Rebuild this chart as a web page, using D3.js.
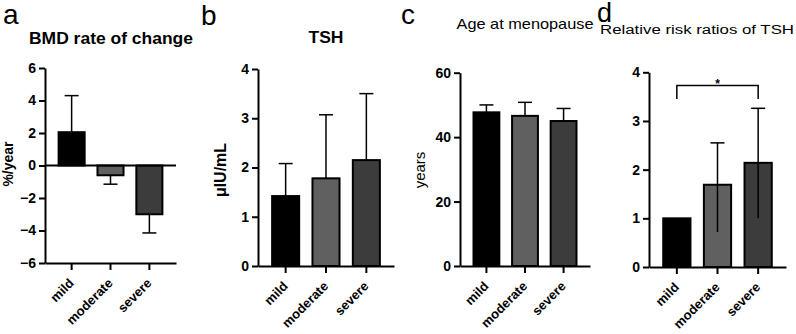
<!doctype html>
<meta charset="utf-8">
<style>
body { margin: 0; background: #fff; }
svg { font-family: "Liberation Sans", Arial, sans-serif; }
.tick text { font-family: "Liberation Sans", Arial, sans-serif; font-size: 14px; font-weight: bold; fill: #000; }
.tick text.cat { font-size: 13px; }
</style>
<body>
<svg id="fig" width="796" height="334"></svg>
<script src="https://d3js.org/d3.v7.min.js"></script>
<script>
  var categories = ["mild", "moderate", "severe"];
  var fills = ["#000000", "#606060", "#3c3c3c"];

  // a: BMD rate of change (%/year), mean and SD
  var bmdMean = [2.05, -0.6, -3.0];
  var bmdSD = [2.25, 0.55, 1.15];
  var bmdTicks = [-6, -4, -2, 0, 2, 4, 6];

  // b: TSH (uIU/mL), mean and SD
  var tshMean = [1.42, 1.78, 2.15];
  var tshSD = [0.66, 1.29, 1.35];
  var tshTicks = [0, 1, 2, 3, 4];

  // c: age at menopause (years), mean and SD
  var ageMean = [47.7, 46.6, 45.0];
  var ageSD = [2.3, 4.2, 3.9];
  var ageTicks = [0, 20, 40, 60];

  // d: relative risk ratios of TSH, with 95% CI
  var rrValue = [1.0, 1.69, 2.14];
  var rrLow = [null, 0.72, 1.0];
  var rrHigh = [null, 2.55, 3.26];
  var rrTicks = [0, 1, 2, 3, 4];
  var sigPair = ["mild", "severe"], sigLevel = 3.73, sigLeg = 3.45;

  var svg = d3.select("#fig");

  function panel(o) {
    var g = svg.append("g");
    var x = d3.scaleBand().domain(categories)
      .range(o.xr).paddingInner(0.33).paddingOuter(0.35);
    var y = d3.scaleLinear().domain(o.domain).range(o.yr);
    var bw = x.bandwidth();

    // bars
    g.selectAll("rect.bar")
      .data(o.mean)
      .enter()
      .append("rect")
      .attr("x", (d, i) => x(categories[i]))
      .attr("width", bw)
      .attr("y", d => Math.min(y(d), y(0)))
      .attr("height", d => Math.abs(y(d) - y(0)))
      .attr("fill", (d, i) => fills[i])
      .attr("stroke", "#000")
      .attr("stroke-width", 2);

    // error bars
    o.err.forEach(function(e, i) {
      if (e == null) return;
      var cx = x(categories[i]) + bw / 2;
      g.append("line")
        .attr("x1", cx).attr("x2", cx)
        .attr("y1", y(e[0])).attr("y2", y(e[1]))
        .attr("stroke", "#000").attr("stroke-width", 1.5);
      g.append("line")
        .attr("x1", cx - 7).attr("x2", cx + 7)
        .attr("y1", y(e[1])).attr("y2", y(e[1]))
        .attr("stroke", "#000").attr("stroke-width", 1.5);
    });

    // zero line (only matters for panel a)
    if (o.domain[0] < 0) {
      g.append("line")
        .attr("x1", o.xr[0]).attr("x2", o.xr[1])
        .attr("y1", y(0)).attr("y2", y(0))
        .attr("stroke", "#000").attr("stroke-width", 2);
    }

    // y axis
    var ya = g.append("g")
      .attr("transform", "translate(" + o.xr[0] + ",0)")
      .call(d3.axisLeft(y).tickValues(o.ticks).tickFormat(d3.format("d"))
        .tickSize(6).tickSizeOuter(0).tickPadding(3));
    ya.select(".domain").attr("stroke-width", 2);
    ya.selectAll(".tick line").attr("stroke-width", 2);

    // x axis
    var xa = g.append("g")
      .attr("transform", "translate(0," + o.yr[0] + ")")
      .call(d3.axisBottom(x).tickSize(7).tickSizeOuter(0));
    xa.select(".domain").attr("stroke-width", 2);
    xa.selectAll(".tick line").attr("stroke-width", 2);
    xa.selectAll(".tick text")
      .attr("class", "cat")
      .attr("text-anchor", "end")
      .attr("transform", "translate(3,21) rotate(-45)")
      .attr("dy", 0)
      .attr("y", 0);

    // titles and labels
    svg.append("text")
      .attr("x", o.letter[0]).attr("y", o.letter[1])
      .attr("font-size", o.letter[2])
      .text(o.name);
    svg.append("text")
      .attr("x", o.title[0]).attr("y", o.title[1])
      .attr("text-anchor", "middle")
      .attr("font-size", o.title[2])
      .attr("font-weight", o.title[3])
      .attr("textLength", o.title[4])
      .attr("lengthAdjust", "spacingAndGlyphs")
      .text(o.titleText);
    if (o.ylabel) {
      svg.append("text")
        .attr("transform", "translate(" + o.ylabel[0] + "," + o.ylabel[1] + ") rotate(-90)")
        .attr("text-anchor", "middle")
        .attr("font-size", o.ylabel[2])
        .attr("font-weight", o.ylabel[3])
        .text(o.ylabelText);
    }
    return {x: x, y: y, g: g};
  }

  panel({
    name: "a", letter: [3, 24, 28],
    titleText: "BMD rate of change", title: [111, 44, 17, "bold", 164],
    ylabelText: "%/year", ylabel: [13, 164, 14, "bold"],
    xr: [45, 176], yr: [263, 68], domain: [-6, 6], ticks: bmdTicks,
    mean: bmdMean,
    err: bmdMean.map((m, i) => [m, m + (m >= 0 ? 1 : -1) * bmdSD[i]])
  });

  panel({
    name: "b", letter: [201, 25, 28],
    titleText: "TSH", title: [326, 43, 17, "bold", 35],
    ylabelText: "\u03bcIU/mL", ylabel: [226, 170, 16, "bold"],
    xr: [258, 394], yr: [266, 69], domain: [0, 4], ticks: tshTicks,
    mean: tshMean,
    err: tshMean.map((m, i) => [m, m + tshSD[i]])
  });

  panel({
    name: "c", letter: [401, 24, 28],
    titleText: "Age at menopause", title: [525, 29, 15, "normal", 137],
    ylabelText: "years", ylabel: [425, 170, 15, "normal"],
    xr: [460, 590], yr: [266, 72.7], domain: [0, 60], ticks: ageTicks,
    mean: ageMean,
    err: ageMean.map((m, i) => [m, m + ageSD[i]])
  });

  var pd = panel({
    name: "d", letter: [597, 22, 27],
    titleText: "Relative risk ratios of TSH", title: [697, 34, 12.5, "normal", 194],
    xr: [649, 786], yr: [267, 72.3], domain: [0, 4], ticks: rrTicks,
    mean: rrValue,
    err: rrValue.map((m, i) => rrLow[i] == null ? null : [rrLow[i], rrHigh[i]])
  });

  // significance bracket in d
  var bx0 = pd.x(sigPair[0]) + pd.x.bandwidth() / 2;
  var bx1 = pd.x(sigPair[1]) + pd.x.bandwidth() / 2;
  pd.g.append("path")
    .attr("d", "M" + bx0 + "," + pd.y(sigLeg) + "V" + pd.y(sigLevel) + "H" + bx1 + "V" + pd.y(sigLeg))
    .attr("fill", "none").attr("stroke", "#000").attr("stroke-width", 1.5);
  pd.g.append("text")
    .attr("x", (bx0 + bx1) / 2).attr("y", pd.y(sigLevel) + 3)
    .attr("text-anchor", "middle")
    .attr("font-size", 12).attr("font-weight", "bold")
    .text("*");
</script>
</body>
